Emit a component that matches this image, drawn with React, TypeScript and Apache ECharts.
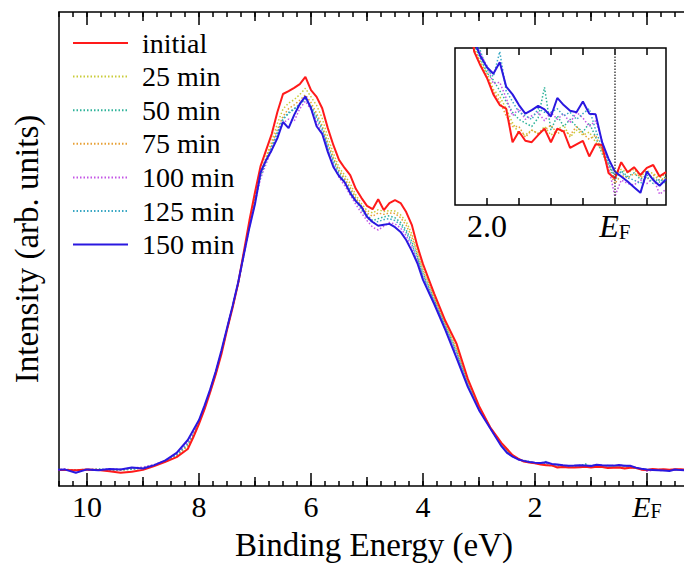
import React, { useEffect, useRef } from "react";
import * as echarts from "echarts";

// Binding energy grid (eV)
const energies = [
  10.6, 10.4, 10.2, 10.0, 9.8, 9.6, 9.4, 9.2, 9.0, 8.8, 8.6, 8.4, 8.2,
  8.1, 8.0, 7.9, 7.8, 7.7, 7.6, 7.5, 7.4, 7.3, 7.2, 7.1, 7.0, 6.9, 6.8, 6.7, 6.6, 6.5, 6.4, 6.3, 6.2,
  6.1, 6.0, 5.9, 5.8, 5.7, 5.6, 5.5, 5.4, 5.3, 5.2, 5.1, 5.0, 4.9, 4.8, 4.7, 4.6, 4.5, 4.4, 4.3, 4.2, 4.1, 4.0,
  3.8, 3.6, 3.4, 3.2, 3.0, 2.8, 2.6,
  2.5, 2.4, 2.3, 2.2, 2.1, 2.0, 1.9, 1.8, 1.7, 1.6, 1.5, 1.4, 1.3, 1.2, 1.1, 1.0, 0.9, 0.8, 0.7, 0.6,
  0.5, 0.4, 0.3, 0.2, 0.1, 0.0, -0.1, -0.2, -0.3, -0.4, -0.5, -0.6, -0.7, -0.8,
];

const seriesNames = ["initial", "25 min", "50 min", "75 min", "100 min", "125 min", "150 min"];

const initial = [
  3.4, 3.4, 3.3, 3.5, 3.4, 3.1, 2.8, 3.0, 3.4, 4.2, 5.1, 6.1, 7.8,
  10.3, 13.1, 16.2, 19.8, 23.6, 27.8, 32.9, 37.6, 42.8, 49.4, 56.0, 62.0, 67.5, 70.9, 74.3, 78.9, 82.7, 83.3, 84.0, 84.8,
  86.3, 83.5, 82.1, 79.7, 75.5, 71.9, 68.8, 67.1, 65.6, 62.7, 60.8, 59.1, 58.4, 60.5, 58.2, 59.7, 60.3, 59.7, 57.8, 55.1, 50.6, 46.8,
  40.6, 34.8, 30.0, 22.6, 16.9, 12.4, 9.1,
  7.8, 6.5, 5.8, 5.15, 4.95, 4.78, 4.55, 4.4, 4.35, 3.88, 4.03, 3.9, 3.88, 3.98, 4.07, 3.88, 4.07, 4.03, 3.8, 3.85,
  3.9, 3.68, 3.85, 3.84, 3.45, 3.37, 3.6, 3.46, 3.53, 3.42, 3.52, 3.56, 3.4, 3.46,
];
const min25 = [
  3.3, 3.5, 3.4, 3.3, 3.5, 3.4, 3.3, 3.6, 3.8, 4.3, 5.2, 6.4, 8.4,
  10.6, 13.4, 16.5, 20.0, 23.8, 28.0, 33.0, 37.7, 42.7, 49.0, 55.4, 61.0, 66.0, 69.5, 72.8, 76.5, 79.5, 80.8, 81.5, 82.6,
  83.9, 82.1, 80.3, 77.6, 73.6, 70.2, 67.2, 65.6, 63.8, 61.4, 59.6, 58.1, 57.6, 58.3, 57.9, 58.1, 58.0, 57.2, 55.8, 53.2, 49.6, 45.8,
  40.0, 34.2, 29.2, 22.0, 16.7, 12.4, 8.9,
  7.6, 6.4, 5.75, 5.2, 5.0, 4.85, 4.62, 4.52, 4.35, 4.15, 4.0, 3.98, 4.05, 4.0, 4.1, 3.98, 4.05, 4.12, 3.95, 4.05,
  3.98, 4.02, 3.88, 3.78, 3.55, 3.42, 3.5, 3.45, 3.5, 3.4, 3.48, 3.44, 3.38, 3.44,
];
const min50 = [
  3.5, 3.3, 3.4, 3.5, 3.3, 3.5, 3.4, 3.5, 3.9, 4.4, 5.3, 6.6, 8.9,
  10.9, 13.6, 16.7, 20.2, 24.0, 28.3, 33.2, 37.9, 42.9, 48.9, 55.0, 60.4, 65.6, 68.8, 71.7, 74.5, 77.3, 78.6, 79.5, 80.6,
  81.8, 80.2, 78.0, 75.6, 72.0, 68.9, 66.3, 64.6, 62.6, 60.5, 58.7, 57.2, 56.0, 56.4, 56.8, 57.0, 56.6, 55.6, 54.0, 51.6, 48.5, 44.8,
  39.3, 33.7, 28.3, 21.6, 16.4, 12.3, 8.7,
  7.4, 6.35, 5.7, 5.25, 5.05, 4.85, 4.75, 4.6, 4.45, 4.3, 4.2, 4.15, 4.1, 4.22, 4.65, 4.05, 4.25, 4.1, 4.2, 4.1,
  4.02, 4.15, 3.95, 3.72, 3.58, 3.35, 3.48, 3.4, 3.45, 3.36, 3.42, 3.38, 3.32, 3.4,
];
const min75 = [
  3.4, 3.5, 3.3, 3.4, 3.5, 3.3, 3.4, 3.7, 3.7, 4.3, 5.2, 6.3, 8.5,
  10.5, 13.3, 16.4, 19.9, 23.7, 28.1, 33.0, 37.8, 42.8, 49.1, 55.2, 60.7, 65.8, 69.2, 72.2, 75.2, 78.0, 79.6, 80.4, 81.4,
  82.5, 80.9, 78.6, 76.0, 72.4, 69.3, 66.6, 64.9, 63.0, 60.8, 59.0, 57.6, 56.9, 57.6, 57.3, 57.6, 57.5, 56.6, 55.0, 52.5, 49.1, 45.4,
  39.7, 34.0, 28.8, 21.8, 16.6, 12.4, 8.8,
  7.5, 6.3, 5.65, 5.2, 4.98, 4.8, 4.6, 4.45, 4.25, 4.1, 4.1, 3.95, 4.05, 4.0, 4.05, 4.12, 4.0, 4.05, 3.98, 4.1,
  4.0, 3.92, 3.98, 3.75, 3.5, 3.3, 3.42, 3.38, 3.44, 3.4, 3.36, 3.42, 3.35, 3.38,
];
const min100 = [
  3.3, 3.6, 3.2, 3.5, 3.4, 3.6, 3.5, 3.8, 4.0, 4.5, 5.4, 6.8, 9.2,
  11.2, 13.7, 16.9, 20.3, 24.1, 28.4, 33.3, 38.0, 42.6, 48.5, 54.6, 59.8, 64.9, 68.0, 71.0, 73.8, 76.6, 77.4, 77.0, 79.6,
  81.2, 79.4, 76.9, 74.4, 70.9, 67.8, 65.1, 63.4, 61.4, 59.4, 57.6, 56.0, 54.6, 54.0, 54.8, 55.6, 55.3, 54.4, 52.8, 50.5, 47.6, 44.0,
  38.8, 33.2, 27.6, 21.2, 16.2, 12.2, 8.5,
  7.1, 6.2, 5.6, 5.3, 5.12, 4.95, 4.7, 4.72, 4.5, 4.25, 4.35, 4.2, 4.25, 4.3, 4.18, 4.3, 4.2, 4.28, 4.15, 4.3,
  4.22, 4.1, 4.18, 3.9, 3.55, 3.12, 3.35, 3.3, 3.28, 3.35, 3.3, 3.38, 3.15, 3.22,
];
const min125 = [
  3.5, 3.4, 3.3, 3.4, 3.6, 3.4, 3.5, 3.6, 3.8, 4.3, 5.3, 6.5, 8.8,
  10.7, 13.5, 16.6, 20.1, 23.9, 28.2, 33.1, 37.8, 42.9, 48.8, 54.9, 60.2, 65.3, 68.5, 71.5, 74.6, 77.5, 78.8, 79.6, 80.5,
  81.6, 80.0, 77.6, 75.1, 71.6, 68.4, 65.8, 64.1, 62.1, 60.1, 58.3, 56.7, 55.5, 55.8, 56.2, 56.4, 56.0, 55.1, 53.5, 51.0, 48.0, 44.4,
  39.0, 33.5, 28.0, 21.4, 16.3, 12.3, 8.6,
  7.2, 6.25, 5.65, 5.4, 5.15, 4.9, 4.8, 5.15, 4.6, 4.45, 4.3, 4.25, 4.2, 4.35, 4.3, 4.3, 4.35, 4.25, 4.3, 4.2,
  4.28, 4.35, 4.05, 3.8, 3.6, 3.4, 3.46, 3.38, 3.35, 3.3, 3.4, 3.3, 3.36, 3.3,
];
const min150 = [
  3.4, 3.5, 2.8, 3.5, 3.3, 3.6, 3.5, 3.9, 3.7, 4.4, 5.4, 7.0, 9.7,
  11.8, 13.9, 17.0, 20.4, 24.2, 28.6, 33.3, 38.0, 43.0, 48.8, 54.5, 59.5, 66.2, 68.8, 70.9, 73.4, 76.8, 75.5, 78.3, 80.6,
  82.2, 79.7, 75.9, 74.3, 70.5, 67.3, 65.4, 64.1, 61.8, 60.1, 58.9, 56.8, 55.7, 54.9, 55.1, 55.3, 54.6, 53.6, 51.9, 49.6, 47.0, 43.5,
  38.4, 32.9, 27.0, 20.9, 16.0, 12.2, 8.4,
  7.0, 6.2, 5.6, 5.3, 5.08, 4.93, 4.84, 5.0, 4.66, 4.55, 4.4, 4.28, 4.33, 4.39, 4.34, 4.24, 4.5, 4.4, 4.32, 4.3,
  4.45, 4.28, 4.27, 3.88, 3.65, 3.47, 3.4, 3.33, 3.25, 3.17, 3.47, 3.35, 3.27, 3.36,
];

// Tick labels
const mainTickValues = [10, 8, 6, 4, 2, 0];
const mainTickLabels = ["10", "8", "6", "4", "2", "{e|E}{f|F}"];
const mainMidTicks = [9, 7, 5, 3, 1];
const insetTickValues = [2, 0];
const insetTickLabels = ["2.0", "{e|E}{f|F}"];
const insetTicks = [2, 1.5, 1, 0.5, 0, -0.5];
const xTitle = "Binding Energy (eV)";
const yTitle = "Intensity (arb. units)";

const FONT = "Liberation Serif";

const allValues = [initial, min25, min50, min75, min100, min125, min150];
const lineStyles = [
  { color: "#ff1a1a", type: "solid" as any, width: 2 },
  { color: "#c9cc3a", type: [1.5, 2] as any, width: 1.5 },
  { color: "#2fb39a", type: [1.5, 2] as any, width: 1.5 },
  { color: "#e8a035", type: [1.5, 2] as any, width: 1.5 },
  { color: "#c455e6", type: [1.5, 2] as any, width: 1.5 },
  { color: "#3aa8c4", type: [1.5, 2] as any, width: 1.5 },
  { color: "#2a18e0", type: "solid" as any, width: 2 },
];
const drawOrder = [1, 2, 3, 4, 5, 0, 6];

function makeRich(big: number, small: number) {
  return {
    e: { fontStyle: "italic", fontSize: big, fontFamily: FONT, color: "#000", lineHeight: big },
    f: { fontSize: small, fontFamily: FONT, color: "#000", verticalAlign: "bottom", lineHeight: small - 2 },
  };
}

function labelFor(values: number[], labels: string[]) {
  return (v: number) => {
    const r = Math.round(v * 1000) / 1000;
    const i = values.indexOf(r);
    return i >= 0 ? labels[i] : "";
  };
}

export default function App() {
  const ref = useRef<HTMLDivElement>(null);
  useEffect(() => {
    if (!ref.current) return;
    const chart = echarts.init(ref.current, null, { renderer: "svg" });
    const pts = (vals: number[]) => energies.map((e, i) => [e, vals[i]]);
    const black = "#000";
    const quarterTicks: number[] = [];
    for (let q = -3; q <= 42; q++) quarterTicks.push(q * 0.25);

    const mainTickAxis = (pos: string, ticks: number[], len: number, withLine: boolean, withLabel: boolean) => ({
      type: "value",
      gridIndex: 0,
      position: pos,
      min: -0.75,
      max: 10.5,
      inverse: true,
      axisLine: { show: withLine, onZero: false, lineStyle: { color: black, width: 1.5 } },
      axisTick: { show: true, inside: true, length: len, customValues: ticks, lineStyle: { color: black, width: 1.5 } },
      axisLabel: withLabel
        ? {
            show: true,
            margin: 5,
            fontSize: 30,
            fontFamily: FONT,
            color: black,
            customValues: mainTickValues,
            formatter: labelFor(mainTickValues, mainTickLabels),
            rich: makeRich(30, 20),
          }
        : { show: false },
      splitLine: { show: false },
      minorTick: { show: false },
      ...(withLabel
        ? {
            name: xTitle,
            nameLocation: "middle",
            nameGap: 42,
            nameMoveOverlap: false,
            nameTextStyle: { fontSize: 33, fontFamily: FONT, color: black },
          }
        : {}),
    });
    const insetAxis = (pos: string, withLabel: boolean) => ({
      type: "value",
      gridIndex: 1,
      position: pos,
      min: -0.8,
      max: 2.5,
      inverse: true,
      axisLine: { show: false, onZero: false },
      axisTick: { show: true, inside: true, length: 7, customValues: insetTicks, lineStyle: { color: black, width: 1.5 } },
      axisLabel: withLabel
        ? {
            show: true,
            margin: 5,
            fontSize: 32,
            fontFamily: FONT,
            color: black,
            customValues: insetTickValues,
            formatter: labelFor(insetTickValues, insetTickLabels),
            rich: makeRich(32, 21),
          }
        : { show: false },
      splitLine: { show: false },
    });

    const series: any[] = [];
    drawOrder.forEach((k) => {
      series.push({
        type: "line",
        name: seriesNames[k],
        xAxisIndex: 0,
        yAxisIndex: 0,
        data: pts(allValues[k]),
        symbol: "none",
        showSymbol: false,
        clip: true,
        lineStyle: lineStyles[k],
        itemStyle: { color: lineStyles[k].color },
        emphasis: { disabled: true },
      });
    });
    drawOrder.forEach((k, j) => {
      series.push({
        type: "line",
        name: seriesNames[k],
        xAxisIndex: 6,
        yAxisIndex: 1,
        data: pts(allValues[k]),
        symbol: "none",
        showSymbol: false,
        clip: true,
        lineStyle: lineStyles[k],
        itemStyle: { color: lineStyles[k].color },
        emphasis: { disabled: true },
        ...(j === 0
          ? {
              markLine: {
                silent: true,
                symbol: "none",
                label: { show: false },
                lineStyle: { type: [1.5, 1.5], color: "#444", width: 1.5 },
                data: [{ xAxis: 0 }],
              },
            }
          : {}),
      });
    });

    chart.setOption({
      animation: false,
      backgroundColor: "#fff",
      textStyle: { fontFamily: FONT },
      grid: [
        { left: 59, top: 12, width: 630, height: 474, outerBoundsMode: "none", containLabel: false },
        {
          left: 455,
          top: 48,
          width: 211,
          height: 157,
          show: true,
          borderColor: black,
          borderWidth: 1.5,
          backgroundColor: "#fff",
          outerBoundsMode: "none",
          containLabel: false,
        },
      ],
      legend: {
        show: true,
        orient: "vertical",
        left: 72,
        top: 29,
        padding: 0,
        itemWidth: 55,
        itemHeight: 14,
        itemGap: 5.6,
        selectedMode: false,
        data: seriesNames,
        itemStyle: { opacity: 0 },
        textStyle: { fontSize: 28, fontFamily: FONT, color: black, lineHeight: 28, padding: [0, 0, 0, 9] },
      },
      xAxis: [
        mainTickAxis("bottom", mainTickValues, 13, true, true),
        mainTickAxis("bottom", mainMidTicks, 9, false, false),
        mainTickAxis("bottom", quarterTicks, 5, false, false),
        mainTickAxis("top", mainTickValues, 13, true, false),
        mainTickAxis("top", mainMidTicks, 9, false, false),
        mainTickAxis("top", quarterTicks, 5, false, false),
        insetAxis("bottom", true),
        insetAxis("top", false),
      ],
      yAxis: [
        {
          type: "value",
          gridIndex: 0,
          position: "left",
          min: 0,
          max: 100,
          axisLine: { show: true, onZero: false, lineStyle: { color: black, width: 1.5 } },
          axisTick: { show: false },
          axisLabel: { show: false },
          splitLine: { show: false },
          name: yTitle,
          nameLocation: "middle",
          nameGap: 16,
          nameMoveOverlap: false,
          nameTextStyle: { fontSize: 33, fontFamily: FONT, color: black },
        },
        {
          type: "value",
          gridIndex: 1,
          position: "left",
          min: 3.0,
          max: 5.2,
          axisLine: { show: false, onZero: false },
          axisTick: { show: false },
          axisLabel: { show: false },
          splitLine: { show: false },
        },
      ],
      series,
    });
    return () => chart.dispose();
  }, []);
  return (
    <div
      ref={ref}
      style={{ position: "absolute", left: 0, top: 0, width: 684, height: 566, background: "#fff" }}
    />
  );
}
